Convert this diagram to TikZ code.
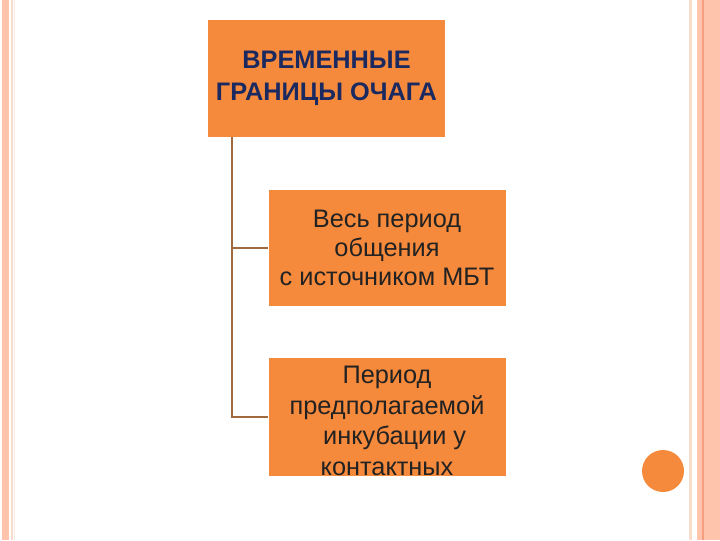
\documentclass[tikz,border=0pt]{standalone}
\usepackage{fontspec}
\setmainfont{Liberation Sans}
\definecolor{boxor}{HTML}{F68A3C}
\definecolor{navy}{HTML}{1A2A60}
\definecolor{txt}{HTML}{222222}
\definecolor{conn}{HTML}{A06A40}
\definecolor{stripe}{HTML}{FFC4AC}
\definecolor{stripedark}{HTML}{F4A080}
\definecolor{stripepale}{HTML}{F8DCCC}
\begin{document}
\begin{tikzpicture}[x=0.75pt,y=-0.75pt,
  boxst/.style={fill=boxor, draw=none, minimum width=237*0.75pt, align=center, inner sep=0pt},
  conline/.style={draw=conn, line width=1.5pt}]
\useasboundingbox (0,0) rectangle (720,540);
\fill[white] (0,0) rectangle (720,540);
% left stripe
\fill[stripe] (2,0) rectangle (9,540);
\fill[stripepale] (11,0) rectangle (12.5,540);
\fill[stripepale!60] (14,0) rectangle (15,540);
% right stripes
\fill[stripepale] (689,0) rectangle (692,540);
\fill[stripe] (697,0) rectangle (720,540);
\fill[stripedark] (701.5,0) rectangle (703.5,540);
% boxes
\node[boxst, minimum height=117*0.75pt, font=\bfseries\fontsize{19pt}{24pt}\selectfont, text=navy] (top) at (326.5,78.5) {ВРЕМЕННЫЕ\\ГРАНИЦЫ ОЧАГА};
\node[boxst, minimum height=116*0.75pt, font=\fontsize{19pt}{22pt}\selectfont, text=txt] (b1) at (387,248) {Весь период\\общения\\с источником МБТ};
\node[boxst, minimum height=118*0.75pt] (b2) at (387,417) {};
\node[font=\fontsize{19pt}{23pt}\selectfont, text=txt, align=center, inner sep=0pt] (b2t) at (387,421) {Период\\предполагаемой\\\hspace*{0.6em}инкубации у\\контактных};
% connectors
\coordinate (trunk) at (232,137);
\draw[conline] (trunk) |- (b1.west);
\draw[conline] (trunk) |- (b2.west);
% circle
\fill[boxor] (663,471) circle (21);
\end{tikzpicture}
\end{document}
